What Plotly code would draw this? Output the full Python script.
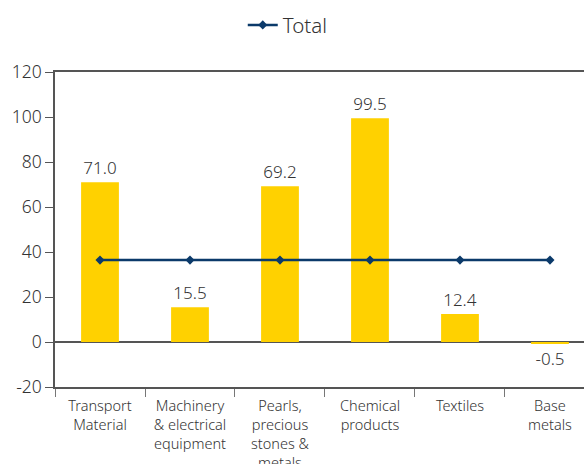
import plotly.graph_objects as go

categories = ["Transport<br>Material", "Machinery<br>& electrical<br>equipment",
              "Pearls,<br>precious<br>stones &<br>metals", "Chemical<br>products",
              "Textiles", "Base<br>metals"]
values = [71.0, 15.5, 69.2, 99.5, 12.4, -0.5]
total = [36.4, 36.4, 36.4, 36.4, 36.4, 36.4]
value_labels = ["71.0", "15.5", "69.2", "99.5", "12.4", "-0.5"]
y_ticks = [-20, 0, 20, 40, 60, 80, 100, 120]

FONT = "Noto Sans"
TXT = "#333333"

fig = go.Figure()
fig.add_trace(go.Bar(
    x=categories, y=values, text=value_labels, textposition="outside",
    textfont=dict(size=17, color=TXT, family=FONT, weight=300),
    marker=dict(color="#FFD100", line=dict(width=0)),
    width=0.42, showlegend=False, cliponaxis=False,
))
fig.add_trace(go.Scatter(
    x=categories, y=total, mode="lines+markers", name="Total",
    line=dict(color="#0B3A6A", width=2.5),
    marker=dict(symbol="diamond", size=7, color="#0B3A6A"),
))

fig.update_layout(
    width=584, height=464,
    margin=dict(l=55, r=0, t=72, b=77, autoexpand=False),
    paper_bgcolor="white", plot_bgcolor="white",
    font=dict(family=FONT, color=TXT, weight=300),
    legend=dict(orientation="h", x=0.44, xanchor="center", y=1.149, yanchor="middle",
                font=dict(size=20.5, color=TXT, family=FONT, weight=300)),
    xaxis=dict(
        type="category", range=[-0.5, 5.378], automargin=False,
        showline=True, linecolor="#555555", linewidth=1.5, mirror=True,
        ticks="outside", tickson="boundaries", ticklen=8, tickcolor="#777777",
        showgrid=False, ticklabelstandoff=5,
        tickfont=dict(size=14.5, color=TXT, family=FONT, weight=300),
    ),
    yaxis=dict(
        range=[-20, 120], tickvals=y_ticks, ticktext=[str(v) for v in y_ticks],
        showline=True, linecolor="#555555", linewidth=1.5, automargin=False,
        ticks="outside", ticklen=8, tickcolor="#555555",
        showgrid=False, zeroline=True, zerolinecolor="#555555", zerolinewidth=1.5,
        tickfont=dict(size=17.5, color=TXT, family=FONT, weight=300),
    ),
)

fig.write_html("out.html")
